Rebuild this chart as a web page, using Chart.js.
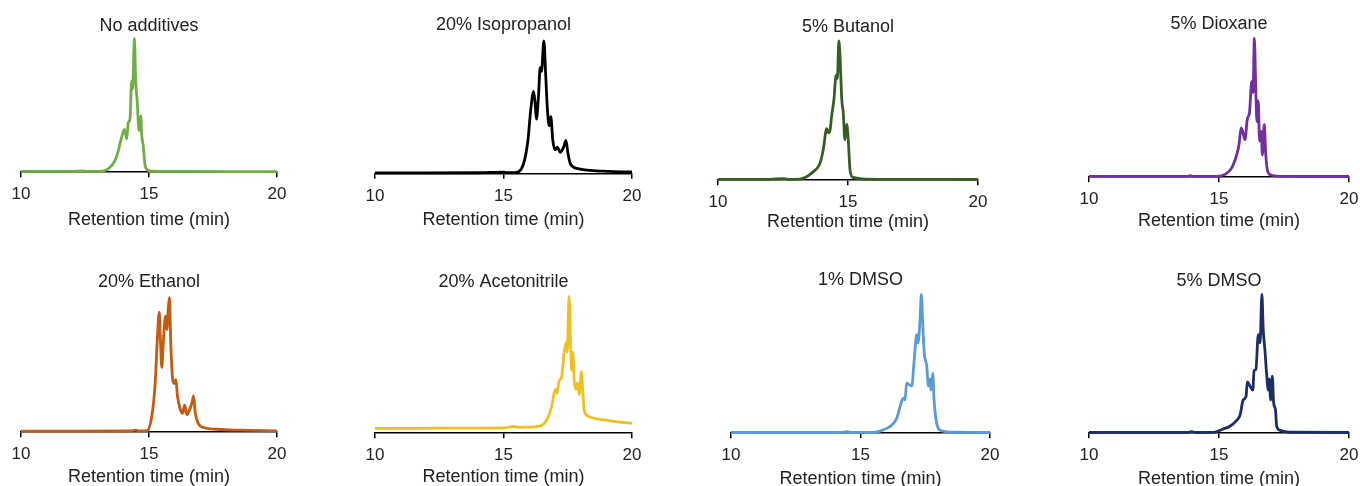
<!DOCTYPE html>
<html>
<head>
<meta charset="utf-8">
<title>Retention time chromatograms</title>
<script src="https://cdn.jsdelivr.net/npm/chart.js@4.4.1/dist/chart.umd.min.js"></script>
<style>
    html, body { margin: 0; padding: 0; background: #fff; }
    #wrap { position: relative; width: 1360px; height: 486px; overflow: hidden; }
    #wrap canvas { position: absolute; }
</style>
</head>
<body>
<div id="wrap"></div>
<script>
// Panel titles
const panelTitles = ['No additives', '20% Isopropanol', '5% Butanol', '5% Dioxane',
                     '20% Ethanol', '20% Acetonitrile', '1% DMSO', '5% DMSO'];

// x-axis ticks (min)
const timeTicks = [10, 15, 20];

// Retention time (min) and relative signal for each trace
const noAddTime = [10, 11, 12, 12.4, 12.6, 13.0, 13.41, 13.67, 13.8, 13.93, 14.04, 14.13, 14.19, 14.26, 14.32, 14.36, 14.43, 14.48, 14.54, 14.61, 14.68, 14.71, 14.78, 14.84, 14.95, 15.1, 16, 18, 20];
const noAddSignal = [0.6, 0.6, 0.6, 1.0, 0.6, 0.6, 2.5, 8.7, 16, 26, 32, 25, 37, 40, 68, 62, 100, 68, 53, 31, 42, 29, 19, 6, 1.7, 0.8, 0.6, 0.5, 0.5];

const isoTime = [10, 12, 14, 15.0, 15.1, 15.3, 15.52, 15.78, 15.95, 16.06, 16.17, 16.23, 16.28, 16.36, 16.43, 16.48, 16.57, 16.64, 16.71, 16.78, 16.84, 16.92, 17.01, 17.1, 17.21, 17.34, 17.43, 17.51, 17.6, 17.86, 18.38, 19.03, 20];
const isoSignal = [0.6, 0.6, 0.7, 1.2, 0.8, 0.8, 1, 7.5, 25, 48, 62, 53, 41, 58, 80, 77, 100, 75, 48, 36, 43, 25, 18, 20, 16, 20, 25, 15, 7.5, 4, 2.5, 1.8, 1.3];

const butTime = [10, 12, 12.5, 12.7, 13.15, 13.66, 13.92, 14.05, 14.18, 14.24, 14.31, 14.37, 14.46, 14.54, 14.59, 14.65, 14.7, 14.76, 14.82, 14.88, 14.95, 15.01, 15.08, 15.2, 15.72, 17, 20];
const butSignal = [0.6, 0.6, 1.2, 0.6, 0.8, 6, 12, 22, 37, 34, 36, 46, 58, 75, 73, 100, 86, 58, 48, 29, 40, 29, 7, 2, 0.8, 0.6, 0.5];

const dioxTime = [10, 12, 13.8, 13.9, 14.0, 14.92, 15.23, 15.49, 15.68, 15.77, 15.85, 15.91, 16.0, 16.09, 16.17, 16.26, 16.31, 16.36, 16.41, 16.46, 16.51, 16.56, 16.62, 16.67, 16.74, 16.8, 16.87, 17.03, 17.4, 20];
const dioxSignal = [0.6, 0.6, 0.6, 1.2, 0.6, 0.6, 2, 6.7, 16, 23.5, 35.5, 33, 27, 42, 46, 69, 61, 100, 67, 40, 55, 26, 33, 16, 38, 16, 4.3, 1.4, 0.6, 0.5];

const ethTime = [10, 12, 14.3, 14.46, 14.6, 14.92, 15.11, 15.24, 15.33, 15.4, 15.45, 15.5, 15.55, 15.62, 15.66, 15.7, 15.75, 15.8, 15.85, 15.92, 15.98, 16.05, 16.11, 16.22, 16.31, 16.39, 16.48, 16.57, 16.68, 16.74, 16.81, 16.94, 17.13, 17.65, 18.57, 20];
const ethSignal = [0.8, 0.8, 0.9, 1.6, 0.9, 1, 12, 36, 71, 89, 66, 48, 64, 83, 86, 76, 91, 100, 66, 40, 36, 39, 27, 17, 14, 20, 13, 16, 22, 27, 14, 6, 3.5, 2.2, 1.5, 1];

const acnTime = [10, 12, 14, 15, 15.39, 15.6, 15.91, 16.43, 16.69, 16.88, 17.01, 17.08, 17.16, 17.26, 17.36, 17.44, 17.48, 17.55, 17.6, 17.65, 17.7, 17.75, 17.82, 17.88, 17.95, 18.03, 18.08, 18.14, 18.25, 18.51, 19.03, 19.55, 20];
const acnSignal = [3.5, 3.6, 3.7, 3.8, 4.9, 4.3, 4.4, 5.4, 10, 20, 32, 29, 38, 41, 59, 66, 59, 100, 71, 46, 59, 39, 32, 37, 28, 45, 32, 17, 13, 11, 9.3, 8, 7.3];

const dmso1Time = [10, 12, 14.3, 14.47, 14.65, 15.5, 15.89, 16.14, 16.4, 16.59, 16.65, 16.72, 16.78, 16.87, 16.98, 17.07, 17.17, 17.22, 17.3, 17.35, 17.4, 17.46, 17.56, 17.62, 17.68, 17.72, 17.79, 17.84, 17.9, 17.97, 18.13, 18.7, 20];
const dmso1Signal = [0.5, 0.5, 0.5, 1.1, 0.5, 0.6, 2.5, 4.8, 10.8, 23, 25, 24, 36, 35, 34, 52, 71, 65, 82, 100, 80, 58, 48, 34, 39, 31, 43, 24, 12, 5, 1.7, 0.7, 0.5];

const dmso5Time = [10, 12, 13.8, 13.94, 14.1, 14.78, 15.16, 15.42, 15.67, 15.81, 15.93, 16.04, 16.09, 16.19, 16.3, 16.35, 16.42, 16.51, 16.58, 16.65, 16.7, 16.77, 16.83, 16.9, 16.93, 16.99, 17.05, 17.1, 17.17, 17.22, 17.35, 17.7, 20];
const dmso5Signal = [0.5, 0.5, 0.5, 1.1, 0.5, 0.6, 3, 5, 9, 13, 24, 26.5, 37, 34, 31, 45, 46, 71, 65, 100, 75, 59, 43, 31, 39, 24, 41, 22, 17, 5, 2, 0.7, 0.5];

const traceTimes = [noAddTime, isoTime, butTime, dioxTime, ethTime, acnTime, dmso1Time, dmso5Time];
const traceSignals = [noAddSignal, isoSignal, butSignal, dioxSignal, ethSignal, acnSignal, dmso1Signal, dmso5Signal];
const traceColors = ['#70ad47', '#000000', '#385d23', '#7030a0', '#c55a11', '#f0c020', '#5b9bd5', '#1f2d66'];

// Page layout of each panel: pixel of x=10, x=20, title centre, peak top, axis line, axis title centre
const panelBoxes = [
    { x10: 21, x20: 277, titleY: 25.5, peakY: 38, axisY: 172, labelY: 220 },
    { x10: 375, x20: 632, titleY: 24.5, peakY: 40.5, axisY: 173.5, labelY: 220 },
    { x10: 718, x20: 978, titleY: 26.5, peakY: 40.5, axisY: 180, labelY: 222 },
    { x10: 1089, x20: 1349, titleY: 23.5, peakY: 38, axisY: 177, labelY: 221 },
    { x10: 21, x20: 277, titleY: 281.5, peakY: 297, axisY: 432, labelY: 477 },
    { x10: 375, x20: 632, titleY: 281.5, peakY: 296, axisY: 433, labelY: 477 },
    { x10: 731, x20: 990, titleY: 279.5, peakY: 294, axisY: 433, labelY: 479 },
    { x10: 1089, x20: 1349, titleY: 280.5, peakY: 294, axisY: 433, labelY: 479 }
];

document.addEventListener('DOMContentLoaded', function() {
    const wrap = document.getElementById('wrap');
    const textColor = '#222';
    const family = '"Liberation Sans", Arial, sans-serif';
    const sidePad = 30;
    const titleLine = 18 * 1.2;
    const tickLen = 5;
    const tickPad = 7;
    // axis title centre sits this far below the axis line when its top padding is 0
    const labelBase = tickLen + 17 * 1.2 + tickPad * 2 + titleLine / 2;

    panelBoxes.forEach(function(box, i) {
        const canvas = document.createElement('canvas');
        const top = box.titleY - titleLine / 2;
        const labelPad = box.labelY - box.axisY - labelBase;
        const axisHeight = labelBase + labelPad + titleLine / 2;
        const width = box.x20 - box.x10 + sidePad * 2;
        const height = box.axisY + axisHeight - top;
        canvas.width = Math.round(width);
        canvas.height = Math.round(height);
        canvas.style.left = (box.x10 - sidePad) + 'px';
        canvas.style.top = top + 'px';
        canvas.style.width = canvas.width + 'px';
        canvas.style.height = canvas.height + 'px';
        wrap.appendChild(canvas);

        const points = traceTimes[i].map((t, k) => ({ x: t, y: traceSignals[i][k] }));

        new Chart(canvas, {
            type: 'line',
            data: {
                datasets: [{
                    data: points,
                    borderColor: traceColors[i],
                    borderWidth: 2.8,
                    pointRadius: 0,
                    cubicInterpolationMode: 'monotone',
                    fill: false,
                    clip: 4
                }]
            },
            options: {
                responsive: false,
                animation: false,
                layout: { padding: { left: sidePad, right: sidePad, top: 0, bottom: 0 } },
                plugins: {
                    legend: { display: false },
                    tooltip: { enabled: false },
                    title: {
                        display: true,
                        text: panelTitles[i],
                        color: textColor,
                        font: { family: family, size: 18, weight: 'normal', lineHeight: 1.2 },
                        padding: { top: 0, bottom: box.peakY - box.titleY - titleLine / 2 }
                    }
                },
                scales: {
                    x: {
                        type: 'linear',
                        min: 10,
                        max: 20,
                        afterBuildTicks: function(axis) {
                            axis.ticks = timeTicks.map(v => ({ value: v }));
                        },
                        grid: {
                            drawOnChartArea: false,
                            drawTicks: true,
                            tickLength: tickLen,
                            color: '#000',
                            lineWidth: 1.5
                        },
                        border: { display: true, color: '#000', width: 1.6 },
                        ticks: {
                            color: textColor,
                            padding: tickPad,
                            maxRotation: 0,
                            font: { family: family, size: 17, lineHeight: 1.2 }
                        },
                        title: {
                            display: true,
                            text: 'Retention time (min)',
                            color: textColor,
                            padding: { top: labelPad, bottom: 0 },
                            font: { family: family, size: 18, lineHeight: 1.2 }
                        }
                    },
                    y: {
                        display: false,
                        min: 0,
                        max: 100
                    }
                }
            }
        });
    });
});
</script>
</body>
</html>
